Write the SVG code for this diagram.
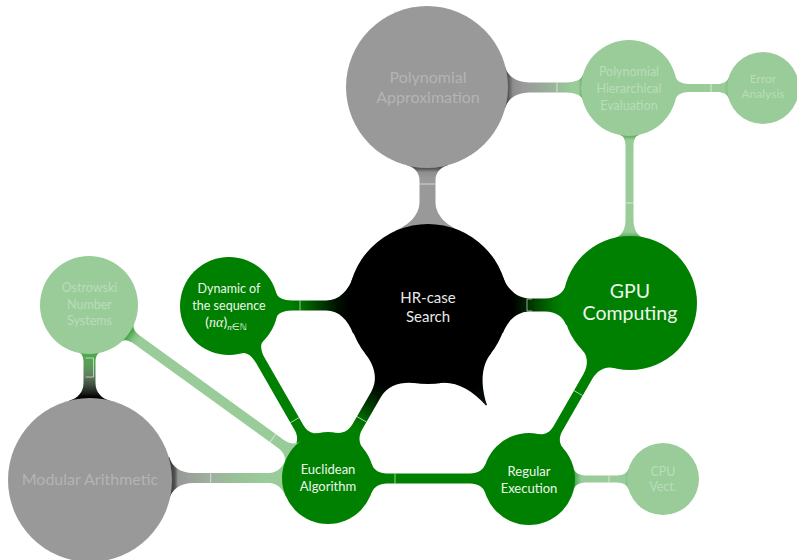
<svg xmlns="http://www.w3.org/2000/svg" width="797" height="560" viewBox="0 0 797 560">
  <style>
    .gray { fill: #999999; }
    .light { fill: #99cc99; }
    .green { fill: #008000; }
    .black { fill: #000000; }
    .seam { fill: none; stroke: #ffffff; stroke-width: 0.7; stroke-opacity: 0.85; }
    text { font-family: Lato, "Open Sans", "DejaVu Sans", sans-serif; text-anchor: middle; }
    .t-gray { fill: #b4b4b4; }
    .t-light { fill: #b9dcb9; }
    .t-green { fill: #eef7ee; }
    .t-black { fill: #e8e8e8; }
    .math { font-family: "Liberation Serif", "DejaVu Serif", serif; font-style: italic; }
  </style>
  <defs>
    <!-- gradients run along each bar's local x axis (from first centre to second centre) -->
    <linearGradient id="g-pa-hr" gradientUnits="userSpaceOnUse" x1="0" y1="0" x2="217" y2="0">
      <stop offset="0.373" stop-color="#4d4d4d"/>
      <stop offset="0.392" stop-color="#8e8e8e"/>
      <stop offset="0.42" stop-color="#999999"/>
      <stop offset="1" stop-color="#999999"/>
    </linearGradient>
    <linearGradient id="g-pa-phe" gradientUnits="userSpaceOnUse" x1="0" y1="0" x2="202" y2="0">
      <stop offset="0.401" stop-color="#555555"/>
      <stop offset="0.426" stop-color="#8e8e8e"/>
      <stop offset="0.47" stop-color="#999999"/>
      <stop offset="0.569" stop-color="#9aa89a"/>
      <stop offset="0.644" stop-color="#99b899"/>
      <stop offset="0.718" stop-color="#99cc99"/>
      <stop offset="0.752" stop-color="#99cc99"/>
      <stop offset="0.767" stop-color="#5aae5a"/>
    </linearGradient>
    <linearGradient id="g-phe-ea" gradientUnits="userSpaceOnUse" x1="0" y1="0" x2="134" y2="0">
      <stop offset="0.716" stop-color="#99cc99"/>
      <stop offset="0.74" stop-color="#70b870"/>
    </linearGradient>
    <linearGradient id="g-phe-gpu" gradientUnits="userSpaceOnUse" x1="0" y1="0" x2="215" y2="0">
      <stop offset="0.219" stop-color="#55aa55"/>
      <stop offset="0.242" stop-color="#99cc99"/>
      <stop offset="0.67" stop-color="#99cc99"/>
      <stop offset="0.693" stop-color="#5cae5c"/>
    </linearGradient>
    <linearGradient id="g-hr-gpu" gradientUnits="userSpaceOnUse" x1="0" y1="0" x2="202" y2="0">
      <stop offset="0.42" stop-color="#000000"/>
      <stop offset="0.49" stop-color="#002600"/>
      <stop offset="0.495" stop-color="#003000"/>
      <stop offset="0.57" stop-color="#005800"/>
      <stop offset="0.62" stop-color="#007200"/>
      <stop offset="0.67" stop-color="#008000"/>
    </linearGradient>
    <linearGradient id="g-dyn-hr" gradientUnits="userSpaceOnUse" x1="0" y1="0" x2="199" y2="0">
      <stop offset="0.3" stop-color="#008000"/>
      <stop offset="0.37" stop-color="#006e00"/>
      <stop offset="0.48" stop-color="#003200"/>
      <stop offset="0.55" stop-color="#000e00"/>
      <stop offset="0.6" stop-color="#000000"/>
    </linearGradient>
    <linearGradient id="g-hr-euc" gradientUnits="userSpaceOnUse" x1="0" y1="0" x2="200.7" y2="0">
      <stop offset="0.46" stop-color="#000000"/>
      <stop offset="0.52" stop-color="#001800"/>
      <stop offset="0.6" stop-color="#004200"/>
      <stop offset="0.66" stop-color="#006a00"/>
      <stop offset="0.72" stop-color="#008000"/>
    </linearGradient>
    <linearGradient id="g-hr-reg" gradientUnits="userSpaceOnUse" x1="0" y1="0" x2="120" y2="0">
      <stop offset="0.8" stop-color="#000000"/>
      <stop offset="1" stop-color="#0a1a0a"/>
    </linearGradient>
    <linearGradient id="g-ost-euc" gradientUnits="userSpaceOnUse" x1="0" y1="0" x2="295" y2="0">
      <stop offset="0.166" stop-color="#45a445"/>
      <stop offset="0.19" stop-color="#88c288"/>
      <stop offset="0.21" stop-color="#99cc99"/>
    </linearGradient>
    <linearGradient id="g-ost-mod" gradientUnits="userSpaceOnUse" x1="0" y1="0" x2="175" y2="0">
      <stop offset="0.28" stop-color="#4fa84f"/>
      <stop offset="0.343" stop-color="#5a9e5a"/>
      <stop offset="0.4" stop-color="#5e805e"/>
      <stop offset="0.457" stop-color="#3f4f3f"/>
      <stop offset="0.503" stop-color="#1a1f1a"/>
      <stop offset="0.526" stop-color="#000000"/>
    </linearGradient>
    <linearGradient id="g-mod-euc" gradientUnits="userSpaceOnUse" x1="0" y1="0" x2="238" y2="0">
      <stop offset="0.34" stop-color="#3a3a3a"/>
      <stop offset="0.357" stop-color="#555555"/>
      <stop offset="0.37" stop-color="#999999"/>
      <stop offset="0.4" stop-color="#9a9e9a"/>
      <stop offset="0.5" stop-color="#9db09d"/>
      <stop offset="0.63" stop-color="#99c399"/>
      <stop offset="0.74" stop-color="#99cc99"/>
    </linearGradient>
    <linearGradient id="g-reg-cpu" gradientUnits="userSpaceOnUse" x1="0" y1="0" x2="134" y2="0">
      <stop offset="0.343" stop-color="#55aa55"/>
      <stop offset="0.39" stop-color="#99cc99"/>
      <stop offset="0.716" stop-color="#99cc99"/>
      <stop offset="0.74" stop-color="#78bc78"/>
    </linearGradient>
  </defs>

  <!-- connection bars: each drawn horizontally in local coordinates, then placed -->
  <g id="connectors">
    <g transform="translate(427.5,87) rotate(90)">
      <path fill="url(#g-pa-hr)" d="M0,-20 L78.49,-20 C80.27,-13.02 85.8,-8 93,-8 L115,-8 C128.2,-8 137.92,-18.8 143.68,-32 L217,-32 L217,32 L143.68,32 C137.92,18.8 128.2,8 115,8 L93,8 C85.8,8 80.27,13.02 78.49,20 L0,20 Z"/>
      <line class="seam" x1="97" y1="-8" x2="97" y2="8"/>
    </g>
    <g transform="translate(427,87.5)">
      <path fill="url(#g-pa-phe)" d="M0,-20 L78.49,-20 C80.71,-11.28 89.8,-5 103,-5 L139,-5 C148,-5 154.47,-7.93 155.52,-12 L202,-12 L202,12 L155.52,12 C154.47,7.93 148,5 139,5 L103,5 C89.8,5 80.71,11.28 78.49,20 L0,20 Z"/>
      <line class="seam" x1="130" y1="-5" x2="130" y2="5"/>
    </g>
    <g transform="translate(629,88)">
      <path fill="url(#g-phe-ea)" d="M0,-11 L46.72,-11 C47.68,-6.91 52.8,-4 60,-4 L88,-4 C94,-4 98.42,-6.54 99.42,-10 L134,-10 L134,10 L99.42,10 C98.42,6.54 94,4 88,4 L60,4 C52.8,4 47.68,6.91 46.72,11 L0,11 Z"/>
      <line class="seam" x1="82" y1="-4" x2="82" y2="4"/>
    </g>
    <g transform="translate(629.5,88) rotate(90)">
      <path fill="url(#g-phe-gpu)" d="M0,-9 L47.15,-9 C47.71,-6.05 52,-4 58,-4 L132,-4 C141.6,-4 148.23,-8.13 149.48,-14 L215,-14 L215,14 L149.48,14 C148.23,8.13 141.6,4 132,4 L58,4 C52,4 47.71,6.05 47.15,9 L0,9 Z"/>
      <line class="seam" x1="115" y1="-4" x2="115" y2="4"/>
    </g>
    <g transform="translate(428,305)">
      <path fill="url(#g-hr-gpu)" d="M0,-28 L74.94,-28 C79.46,-15.91 88.8,-6.5 102,-6.5 L117,-6.5 C127.8,-6.5 135.63,-12.27 138.05,-20 L202,-20 L202,20 L138.05,20 C135.63,12.27 127.8,6.5 117,6.5 L102,6.5 C88.8,6.5 79.46,15.91 74.94,28 L0,28 Z"/>
      <polyline class="seam" points="104,-6 99,-6 99,6 104,6"/>
    </g>
    <g transform="translate(229,305.5)">
      <path fill="url(#g-dyn-hr)" d="M0,-12 L47.51,-12 C48.54,-7.93 54.6,-5 63,-5 L97,-5 C110.2,-5 119.23,-15.07 124.06,-28 L199,-28 L199,28 L124.06,28 C119.23,15.07 110.2,5 97,5 L63,5 C54.6,5 48.54,7.93 47.51,12 L0,12 Z"/>
      <line class="seam" x1="71" y1="-5" x2="71" y2="5"/>
    </g>
    <g transform="translate(428,304) rotate(119.9)">
      <path fill="url(#g-hr-euc)" d="M0,-30 L74.16,-30 C79.67,-16.37 89.6,-5.5 104,-5.5 L141.7,-5.5 C149.5,-5.5 155.35,-9.61 157.21,-15 L200.7,-15 L200.7,15 L157.21,15 C155.35,9.61 149.5,5.5 141.7,5.5 L104,5.5 C89.6,5.5 79.67,16.37 74.16,30 L0,30 Z"/>
      <line class="seam" x1="133" y1="-5.5" x2="133" y2="5.5"/>
    </g>
    <!-- the HR-case / Regular Execution bar only shows its root, tapering to a point -->
    <g transform="translate(428,304) rotate(60)">
      <path fill="url(#g-hr-reg)" d="M0,-30 L74.16,-30 C80,-15 96,-5 117,-0.6 L117,0.6 C96,5 80,15 74.16,30 L0,30 Z"/>
    </g>
    <g transform="translate(229,306) rotate(60.08)">
      <path class="green" d="M0,-12 L47.51,-12 C48.54,-7.93 54.6,-5 63,-5 L140.5,-5 C147.7,-5 153.04,-8.85 154.68,-14 L198.5,-14 L198.5,14 L154.68,14 C153.04,8.85 147.7,5 140.5,5 L63,5 C54.6,5 48.54,7.93 47.51,12 L0,12 Z"/>
      <line class="seam" x1="131.7" y1="-5" x2="131.7" y2="5"/>
    </g>
    <g transform="translate(89,305) rotate(35.9)">
      <path fill="url(#g-ost-euc)" d="M0,-10 L47.97,-10 C48.58,-7.06 53,-5 59,-5 L237,-5 C244.2,-5 249.52,-8.4 250.88,-13 L295,-13 L295,13 L250.88,13 C249.52,8.4 244.2,5 237,5 L59,5 C53,5 48.58,7.06 47.97,10 L0,10 Z"/>
      <line class="seam" x1="227" y1="-5" x2="227" y2="5"/>
    </g>
    <g transform="translate(89.5,305) rotate(90)">
      <path fill="url(#g-ost-mod)" d="M0,-10 L47.97,-10 C48.46,-7.65 52.2,-6 57,-6 L78,-6 C87,-6 93.43,-11.85 95.48,-20 L175,-20 L175,20 L95.48,20 C93.43,11.85 87,6 78,6 L57,6 C52.2,6 48.46,7.65 47.97,10 L0,10 Z"/>
      <polyline class="seam" points="53,4 53,-4 72,-4 72,4"/>
    </g>
    <g transform="translate(90,478)">
      <path fill="url(#g-mod-euc)" d="M0,-21 L79.27,-21 C81.73,-11.72 90.4,-5 103,-5 L179,-5 C186.8,-5 192.62,-10.82 195.67,-18 L238,-18 L238,18 L195.67,18 C192.62,10.82 186.8,5 179,5 L103,5 C90.4,5 81.73,11.72 79.27,21 L0,21 Z"/>
      <line class="seam" x1="120.7" y1="-5" x2="120.7" y2="5"/>
    </g>
    <g transform="translate(630,303) rotate(119.85)">
      <path class="green" d="M0,-18 L64.54,-18 C66.64,-10.49 74.2,-5 85,-5 L144.9,-5 C152.1,-5 157.44,-8.85 159.08,-14 L202.9,-14 L202.9,14 L159.08,14 C157.44,8.85 152.1,5 144.9,5 L85,5 C74.2,5 66.64,10.49 64.54,18 L0,18 Z"/>
      <line class="seam" x1="103.9" y1="-5" x2="103.9" y2="5"/>
    </g>
    <g transform="translate(328,478.5)">
      <path class="green" d="M0,-14 L43.82,-14 C45.46,-8.85 51.2,-5 59,-5 L142,-5 C149.8,-5 155.54,-8.85 157.18,-14 L201,-14 L201,14 L157.18,14 C155.54,8.85 149.8,5 142,5 L59,5 C51.2,5 45.46,8.85 43.82,14 L0,14 Z"/>
      <line class="seam" x1="67" y1="-5" x2="67" y2="5"/>
    </g>
    <g transform="translate(529,479)">
      <path fill="url(#g-reg-cpu)" d="M0,-10 L44.9,-10 C45.75,-6.19 50.8,-3.5 58,-3.5 L88,-3.5 C94,-3.5 98.34,-6.25 99.42,-10 L134,-10 L134,10 L99.42,10 C98.34,6.25 94,3.5 88,3.5 L58,3.5 C50.8,3.5 45.75,6.19 44.9,10 L0,10 Z"/>
      <line class="seam" x1="80" y1="-3.5" x2="80" y2="3.5"/>
    </g>
  </g>

  <!-- concepts -->
  <g id="poly-approx">
    <circle class="gray" cx="427" cy="87" r="81"/>
    <text class="t-gray" font-size="16"><tspan x="428" y="83">Polynomial</tspan><tspan x="428" y="103">Approximation</tspan></text>
  </g>
  <g id="poly-hier-eval">
    <circle class="light" cx="629" cy="88" r="48"/>
    <text class="t-light" font-size="12.5"><tspan x="629" y="76">Polynomial</tspan><tspan x="629" y="93">Hierarchical</tspan><tspan x="629" y="110">Evaluation</tspan></text>
  </g>
  <g id="error-analysis">
    <circle class="light" cx="763" cy="88" r="36"/>
    <text class="t-light" font-size="12"><tspan x="763" y="83">Error</tspan><tspan x="763" y="98">Analysis</tspan></text>
  </g>
  <g id="hr-case">
    <circle class="black" cx="428" cy="304" r="80"/>
    <text class="t-black" font-size="15"><tspan x="428" y="303">HR-case</tspan><tspan x="428" y="322">Search</tspan></text>
  </g>
  <g id="gpu">
    <circle class="green" cx="630" cy="303" r="67"/>
    <text class="t-green" font-size="19.5"><tspan x="630" y="298">GPU</tspan><tspan x="630" y="320">Computing</tspan></text>
  </g>
  <g id="dynamic">
    <circle class="green" cx="229" cy="306" r="49"/>
    <text class="t-green" font-size="12.5"><tspan x="229" y="293">Dynamic of</tspan><tspan x="229" y="310">the sequence</tspan></text>
    <text class="t-green" x="226" y="327" font-size="14">(<tspan class="math">nα</tspan>)<tspan class="math" font-size="9" dy="2.5">n</tspan><tspan font-size="9" font-family="'DejaVu Sans', sans-serif">∈ℕ</tspan></text>
  </g>
  <g id="ostrowski">
    <circle class="light" cx="89" cy="305" r="49"/>
    <text class="t-light" font-size="12.5"><tspan x="89.5" y="292">Ostrowski</tspan><tspan x="89.5" y="309">Number</tspan><tspan x="89.5" y="325">Systems</tspan></text>
  </g>
  <g id="modular">
    <circle class="gray" cx="90" cy="480" r="82"/>
    <text class="t-gray" font-size="16" x="90" y="485">Modular Arithmetic</text>
  </g>
  <g id="euclidean">
    <circle class="green" cx="328" cy="478" r="46"/>
    <text class="t-green" font-size="13"><tspan x="328" y="474">Euclidean</tspan><tspan x="328" y="491">Algorithm</tspan></text>
  </g>
  <g id="regular">
    <circle class="green" cx="529" cy="479" r="46"/>
    <text class="t-green" font-size="13"><tspan x="529" y="476">Regular</tspan><tspan x="529" y="493">Execution</tspan></text>
  </g>
  <g id="cpu-vect">
    <circle class="light" cx="663" cy="479" r="36"/>
    <text class="t-light" font-size="12.5"><tspan x="663" y="476">CPU</tspan><tspan x="663" y="491">Vect.</tspan></text>
  </g>
</svg>
